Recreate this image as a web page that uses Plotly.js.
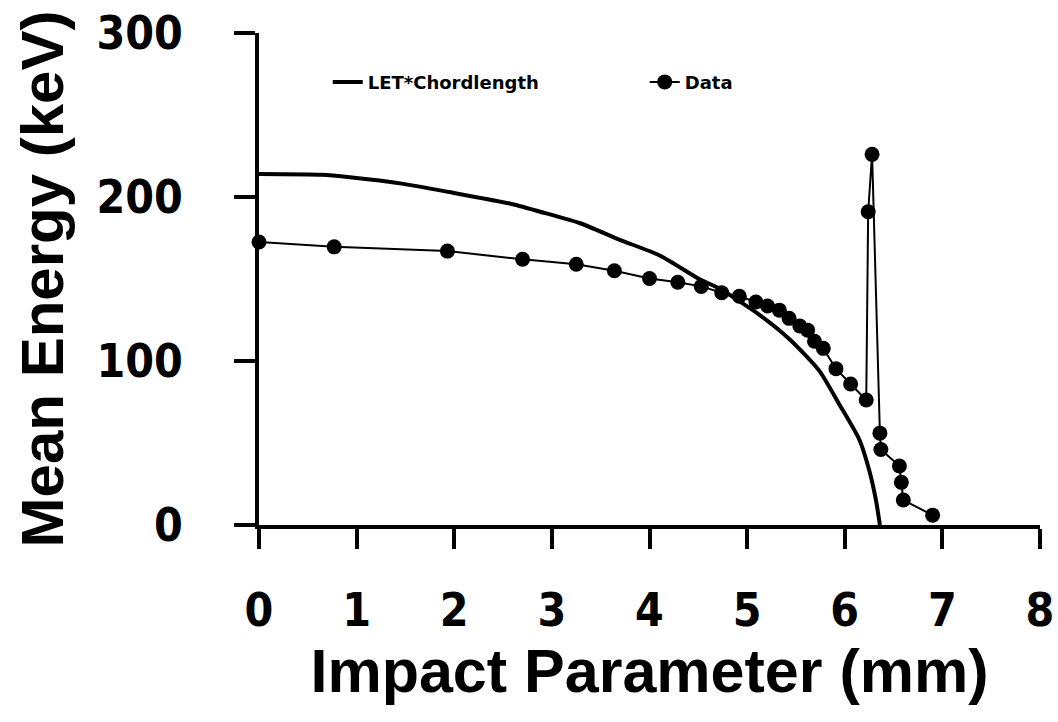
<!DOCTYPE html>
<html>
<head>
<meta charset="utf-8">
<script src="https://cdn.plot.ly/plotly-3.0.1.min.js"></script>
<style>html,body{margin:0;padding:0;background:#fff;}#chart{width:1058px;height:722px;}</style>
</head>
<body>
<div id="chart"></div>
<script>
// LET*Chordlength curve
const letX = [0, 0.64, 0.93, 1.48, 1.95, 2.57, 2.88, 3.29, 3.69, 4.10, 4.51, 4.72, 5.13, 5.44, 5.74, 5.95, 6.15, 6.25, 6.32, 6.36];
const letY = [214, 213.5, 212, 208, 203, 196, 191, 184, 174, 164.5, 150, 144, 128, 113, 94, 73, 52, 33.5, 15, 0];

// Measured data points
const dataX = [0, 0.77, 1.93, 2.70, 3.25, 3.64, 4.00, 4.29, 4.53, 4.74, 4.92, 5.09, 5.21, 5.33, 5.43, 5.54, 5.62, 5.69, 5.78, 5.91, 6.06, 6.22, 6.24, 6.28, 6.36, 6.37, 6.56, 6.58, 6.60, 6.90];
const dataY = [172.6, 169.6, 167, 162, 159, 155, 150.3, 148, 145.5, 141.6, 139.5, 136, 133.5, 131, 126, 121.3, 118.8, 112, 107.7, 95.3, 86, 76.2, 191, 226, 56, 46, 36, 26, 15.2, 6];

const xTicks = [0, 1, 2, 3, 4, 5, 6, 7, 8];
const yTicks = [0, 100, 200, 300];

const traces = [
  {x: letX, y: letY, name: 'LET*Chordlength', mode: 'lines', type: 'scatter',
   line: {color: '#000', width: 4, shape: 'spline', smoothing: 0.6}, cliponaxis: false},
  {x: dataX, y: dataY, name: 'Data', mode: 'lines+markers', type: 'scatter',
   line: {color: '#000', width: 2}, marker: {color: '#000', size: 15}, cliponaxis: false}
];

const tickFont = {family: 'DejaVu Sans Condensed, DejaVu Sans', size: 46, color: '#000', weight: 'bold'};
const titleFont = {family: 'Liberation Sans, Arial', size: 60, color: '#000', weight: 'bold'};

const layout = {
  width: 1058, height: 722,
  paper_bgcolor: '#fff', plot_bgcolor: '#fff',
  margin: {l: 259, r: 18, t: 33, b: 197},
  showlegend: true,
  legend: {orientation: 'h', x: 0.088, y: 0.9, xanchor: 'left', yanchor: 'middle',
    font: {family: 'DejaVu Sans', size: 18, color: '#000', weight: 'bold'},
    entrywidth: 272, entrywidthmode: 'pixels', bgcolor: 'rgba(0,0,0,0)'},
  xaxis: {range: [0, 8], tickvals: xTicks, ticktext: xTicks.map(String),
    showgrid: false, zeroline: false, showline: true, linecolor: '#000', linewidth: 4,
    ticks: 'outside', ticklen: 20, tickwidth: 4, tickcolor: '#000',
    tickfont: tickFont, ticklabelstandoff: 22,
    title: {text: 'Impact Parameter (mm)', font: {family: 'Liberation Sans, Arial', size: 61, color: '#000', weight: 'bold'}, standoff: 12}},
  yaxis: {range: [0, 300], tickvals: yTicks, ticktext: yTicks.map(String),
    showgrid: false, zeroline: false, showline: true, linecolor: '#000', linewidth: 4,
    ticks: 'outside', ticklen: 21, tickwidth: 4, tickcolor: '#000',
    tickfont: tickFont, ticklabelstandoff: 42,
    title: {text: 'Mean Energy (keV)', font: titleFont, standoff: 14}}
};

Plotly.newPlot('chart', traces, layout, {displayModeBar: false, staticPlot: true});
</script>
</body>
</html>
